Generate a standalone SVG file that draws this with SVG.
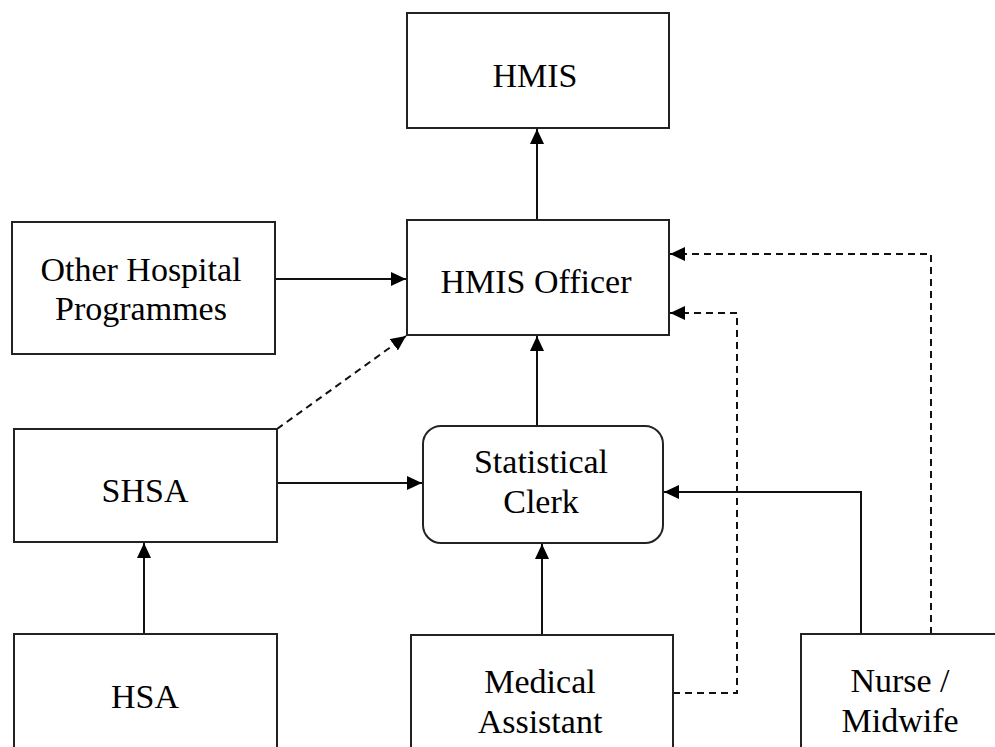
<svg xmlns="http://www.w3.org/2000/svg" width="995" height="747" viewBox="0 0 995 747">
<style>
.box{fill:#fff;stroke:#222;stroke-width:2}
.t{font-family:"Liberation Serif","Times New Roman",serif;font-size:34px;fill:#000;text-anchor:middle}
.c{fill:none;stroke:#111;stroke-width:2}
.d{stroke-dasharray:7 5}
</style>
<defs>
<marker id="ah" markerUnits="userSpaceOnUse" markerWidth="16" markerHeight="14" refX="15" refY="7" orient="auto">
<path d="M0,0 L15,7 L0,14 Z" fill="#000"/>
</marker>
</defs>
<rect width="995" height="747" fill="#fff"/>
<g id="connectors">
<line class="c" x1="537" y1="220" x2="537" y2="129" marker-end="url(#ah)"/>
<line class="c" x1="275" y1="279" x2="406" y2="279" marker-end="url(#ah)"/>
<line class="c d" x1="277" y1="429" x2="406" y2="336" marker-end="url(#ah)"/>
<line class="c" x1="537" y1="426" x2="537" y2="336" marker-end="url(#ah)"/>
<line class="c" x1="277" y1="483" x2="422" y2="483" marker-end="url(#ah)"/>
<line class="c" x1="144" y1="634" x2="144" y2="543" marker-end="url(#ah)"/>
<line class="c" x1="542" y1="635" x2="542" y2="544" marker-end="url(#ah)"/>
<polyline class="c" points="861,634 861,492 664,492" marker-end="url(#ah)"/>
<polyline class="c d" points="931,634 931,254 670,254" marker-end="url(#ah)"/>
<polyline class="c d" points="673,693 737,693 737,313 670,313" marker-end="url(#ah)"/>
</g>
<g id="hmis">
<rect class="box" x="407" y="13" width="262" height="115"/>
<text class="t" x="535" y="87">HMIS</text>
</g>
<g id="hmis-officer">
<rect class="box" x="407" y="220" width="262" height="115"/>
<text class="t" x="536" y="293">HMIS Officer</text>
</g>
<g id="other-programmes">
<rect class="box" x="12" y="222" width="263" height="132"/>
<text class="t" x="141" y="281">Other Hospital</text>
<text class="t" x="141" y="320">Programmes</text>
</g>
<g id="shsa">
<rect class="box" x="14" y="429" width="263" height="113"/>
<text class="t" x="145" y="502">SHSA</text>
</g>
<g id="statistical-clerk">
<rect class="box" x="423" y="426" width="240" height="117" rx="18" ry="18"/>
<text class="t" x="541" y="473">Statistical</text>
<text class="t" x="541" y="513">Clerk</text>
</g>
<g id="hsa">
<rect class="box" x="14" y="634" width="263" height="130"/>
<text class="t" x="145" y="708">HSA</text>
</g>
<g id="medical-assistant">
<rect class="box" x="411" y="635" width="262" height="130"/>
<text class="t" x="540" y="693">Medical</text>
<text class="t" x="540" y="733">Assistant</text>
</g>
<g id="nurse-midwife">
<rect class="box" x="801" y="634" width="220" height="130"/>
<text class="t" x="900" y="692">Nurse /</text>
<text class="t" x="900" y="732">Midwife</text>
</g>
</svg>
